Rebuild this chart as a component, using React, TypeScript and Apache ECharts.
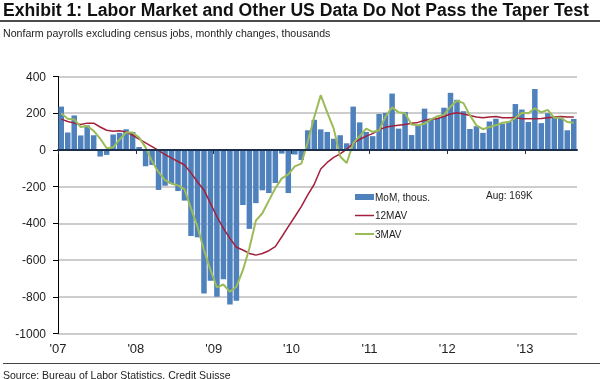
import React, { useEffect, useRef } from 'react';
import * as echarts from 'echarts';

const yearLabels = ["'07", "'08", "'09", "'10", "'11", "'12", "'13"];

// Nonfarm payrolls excl. census, monthly change (thousands), Jan 2007 - Aug 2013
const mom = [
  236, 95, 188, 79, 134, 80, -36, -27, 84, 93, 112, 98,
  16, -89, -82, -218, -195, -185, -224, -276, -469, -476, -782, -713,
  -800, -704, -842, -822, -300, -430, -290, -220, -235, -180, -20, -235,
  -25, -55, 107, 164, 112, 98, 61, 80, 36, 236, 150, 98,
  75, 196, 202, 307, 116, 207, 81, 133, 225, 172, 174, 230,
  311, 273, 211, 114, 129, 93, 155, 170, 143, 155, 250, 220,
  152, 332, 146, 200, 179, 175, 107, 169,
];

const mav12 = [
  168, 155, 146, 139, 146, 146, 125, 107, 102, 105, 98, 80,
  59, 38, 18, -3, -25, -45, -63, -82, -125, -175, -218, -291,
  -364, -427, -482, -530, -545, -564, -573, -564, -549, -527, -473, -418,
  -364, -309, -245, -187, -104, -68, -41, -21, 4, 36, 57, 75,
  89, 111, 123, 130, 134, 138, 145, 150, 162, 166, 171, 182,
  196, 202, 196, 188, 179, 175, 179, 182, 175, 175, 177, 170,
  170, 170, 171, 175, 179, 182, 179, 179,
];

const mav3 = [
  200, 170, 166, 125, 130, 104, 62, 9, 14, 57, 95, 95,
  68, 14, -62, -121, -164, -184, -193, -215, -318, -418, -545, -655,
  -749, -733, -773, -745, -655, -536, -385, -345, -276, -209, -155, -133,
  -90, -75, 45, 179, 298, 205, 116, -36, -71, 36, 75, 116,
  98, 107, 182, 232, 205, 200, 139, 134, 143, 166, 184, 191,
  236, 268, 255, 188, 134, 113, 125, 134, 148, 152, 175, 202,
  200, 227, 205, 218, 175, 175, 152, 148,
];

const yearTicks = [0, 12, 24, 36, 48, 60, 72];

const legendItems = [
  { name: 'MoM, thous.', kind: 'bar', color: '#4f81bd' },
  { name: '12MAV', kind: 'line', color: '#a3203c' },
  { name: '3MAV', kind: 'line', color: '#9bbb59' },
];

export default function App() {
  const ref = useRef<HTMLDivElement>(null);
  useEffect(() => {
    const chart = echarts.init(ref.current!, null, { renderer: 'svg' });
    const font = "'Liberation Sans', Arial, sans-serif";
    const toXY = (arr: number[]) => arr.map((v, i) => [i + 0.5, v]);

    const legendGraphics: any[] = [];
    legendItems.forEach((it, k) => {
      const cy = 197 + k * 18.5;
      if (it.kind === 'bar') {
        legendGraphics.push({ type: 'rect', shape: { x: 355, y: cy - 3, width: 19, height: 6 }, style: { fill: it.color } });
      } else {
        legendGraphics.push({ type: 'line', shape: { x1: 355, y1: cy, x2: 374, y2: cy }, style: { stroke: it.color, lineWidth: k === 1 ? 1.5 : 2 } });
      }
      legendGraphics.push({
        type: 'text',
        x: 375,
        y: cy,
        style: { text: it.name, fontSize: 10, fill: '#222', fontFamily: font, textVerticalAlign: 'middle', verticalAlign: 'middle' },
      });
    });

    chart.setOption({
      animation: false,
      textStyle: { fontFamily: font },
      grid: { left: 58, right: 27, top: 76.5, bottom: 45.5 },
      xAxis: [
        {
          type: 'value',
          min: 0,
          max: 80,
          interval: 12,
          position: 'bottom',
          axisLine: { show: false, onZero: false },
          axisTick: { show: false },
          splitLine: { show: false },
          axisLabel: {
            customValues: yearTicks,
            formatter: (v: number) => (v % 12 === 0 && v < 80 ? yearLabels[v / 12] : ''),
            fontSize: 13,
            color: '#222',
            margin: 8,
            fontFamily: font,
          },
        },
        {
          type: 'value',
          min: 0,
          max: 80,
          interval: 12,
          position: 'bottom',
          z: 5,
          axisLine: { show: true, onZero: true, lineStyle: { color: '#1c2f4d', width: 2 } },
          axisTick: { show: true, customValues: yearTicks, length: 4, lineStyle: { color: '#1c2f4d', width: 1 } },
          axisLabel: { show: false },
          splitLine: { show: false },
        },
      ],
      yAxis: {
        type: 'value',
        min: -1000,
        max: 400,
        interval: 200,
        axisLine: { show: true, onZero: false, lineStyle: { color: '#000', width: 1 } },
        axisTick: { show: true, length: 5, lineStyle: { color: '#000' } },
        axisLabel: { fontSize: 12, color: '#222', margin: 12, fontFamily: font, formatter: (v: number) => String(v) },
        splitLine: { lineStyle: { color: '#bdbdbd', width: 1.5 } },
      },
      series: [
        {
          name: 'MoM, thous.',
          type: 'bar',
          xAxisIndex: 0,
          barWidth: 5.5,
          itemStyle: { color: '#4f81bd' },
          data: toXY(mom),
        },
        {
          name: '12MAV',
          type: 'line',
          xAxisIndex: 0,
          symbol: 'none',
          lineStyle: { color: '#a3203c', width: 1.5 },
          itemStyle: { color: '#a3203c' },
          data: toXY(mav12),
        },
        {
          name: '3MAV',
          type: 'line',
          xAxisIndex: 0,
          symbol: 'none',
          lineStyle: { color: '#9bbb59', width: 2 },
          itemStyle: { color: '#9bbb59' },
          data: toXY(mav3),
        },
      ],
      graphic: [
        {
          type: 'text',
          left: 3,
          top: 1,
          style: { text: 'Exhibit 1: Labor Market and Other US Data Do Not Pass the Taper Test', fontSize: 17.6, fontWeight: 'bold', fill: '#111', fontFamily: font },
        },
        { type: 'line', shape: { x1: 0, y1: 21, x2: 600, y2: 21 }, style: { stroke: '#111', lineWidth: 1.5 } },
        {
          type: 'text',
          left: 3,
          top: 27,
          style: { text: 'Nonfarm payrolls excluding census jobs, monthly changes, thousands', fontSize: 10.6, fill: '#222', fontFamily: font },
        },
        { type: 'line', shape: { x1: 3, y1: 363.5, x2: 600, y2: 363.5 }, style: { stroke: '#444', lineWidth: 1 } },
        {
          type: 'text',
          left: 3,
          top: 369,
          style: { text: 'Source: Bureau of Labor Statistics, Credit Suisse', fontSize: 10.5, fill: '#222', fontFamily: font },
        },
        {
          type: 'text',
          left: 486,
          top: 190,
          style: { text: 'Aug: 169K', fontSize: 10, fill: '#222', fontFamily: font },
        },
        ...legendGraphics,
      ],
    });
    return () => chart.dispose();
  }, []);
  return <div ref={ref} style={{ position: 'fixed', left: 0, top: 0, width: 604, height: 379 }} />;
}
